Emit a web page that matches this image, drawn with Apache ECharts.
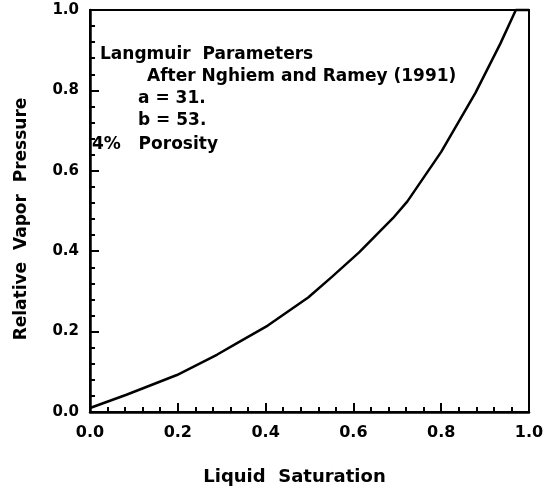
<!DOCTYPE html>
<html>
<head>
<meta charset="utf-8">
<script src="https://cdn.jsdelivr.net/npm/echarts@6/dist/echarts.min.js"></script>
<style>
html,body{margin:0;padding:0;background:#fff;}
#chart{width:554px;height:491px;}
</style>
</head>
<body>
<div id="chart"></div>
<script>
// Data
const liquidSaturation = [0, 0.083, 0.198, 0.29, 0.336, 0.405, 0.497, 0.551, 0.613, 0.69, 0.723, 0.8, 0.878, 0.935, 0.97, 1.0];
const relVaporPressure = [0.01, 0.043, 0.092, 0.143, 0.172, 0.215, 0.285, 0.336, 0.397, 0.482, 0.524, 0.647, 0.794, 0.917, 1.0, 1.0];
const xTicks = [0.0, 0.2, 0.4, 0.6, 0.8, 1.0];
const yTicks = [0.0, 0.2, 0.4, 0.6, 0.8, 1.0];
const annotationLines = [
  'Langmuir  Parameters',
  'After Nghiem and Ramey (1991)',
  'a = 31.',
  'b = 53.',
  '4%   Porosity'
];

const FONT = 'DejaVu Sans';
const chart = echarts.init(document.getElementById('chart'), null, {renderer: 'canvas'});
const seriesData = liquidSaturation.map((x, i) => [x, relVaporPressure[i]]);

const annPos = [[100, 56], [147, 78], [138, 100], [138, 122], [92, 146]];

chart.setOption({
  animation: false,
  backgroundColor: '#fff',
  grid: {left: 90, right: 25, top: 10, bottom: 79, show: true, borderColor: '#000', borderWidth: 2, backgroundColor: 'transparent'},
  xAxis: {
    type: 'value', min: 0, max: 1, interval: 0.2,
    name: 'Liquid  Saturation', nameLocation: 'middle', nameGap: 56,
    nameTextStyle: {fontFamily: FONT, fontWeight: 'bold', fontSize: 18, color: '#000', padding: [0, 30, 0, 0]},
    axisLine: {show: true, lineStyle: {color: '#000', width: 2.5}},
    axisTick: {show: true, inside: true, length: 9, lineStyle: {color: '#000', width: 2}},
    minorTick: {show: true, splitNumber: 5, length: 5, lineStyle: {color: '#000', width: 2}},
    splitLine: {show: false},
    axisLabel: {margin: 13, fontFamily: FONT, fontWeight: 'bold', fontSize: 16, color: '#000',
      formatter: v => xTicks.includes(+v.toFixed(1)) ? v.toFixed(1) : ''}
  },
  yAxis: {
    type: 'value', min: 0, max: 1, interval: 0.2,
    name: 'Relative  Vapor  Pressure', nameLocation: 'middle', nameGap: 60,
    nameTextStyle: {fontFamily: FONT, fontWeight: 'bold', fontSize: 17, color: '#000', padding: [0, 16, 0, 0]},
    axisLine: {show: true, lineStyle: {color: '#000', width: 2.5}},
    axisTick: {show: true, inside: true, length: 9, lineStyle: {color: '#000', width: 2}},
    minorTick: {show: true, splitNumber: 5, length: 5, lineStyle: {color: '#000', width: 2}},
    splitLine: {show: false},
    axisLabel: {margin: 11, fontFamily: FONT, fontWeight: 'bold', fontSize: 15, color: '#000',
      formatter: v => yTicks.includes(+v.toFixed(1)) ? v.toFixed(1) : ''}
  },
  series: [{
    type: 'line', data: seriesData, symbol: 'none', smooth: false,
    lineStyle: {color: '#000', width: 2.5, join: 'round'}, clip: false
  }],
  graphic: annotationLines.map((t, i) => ({
    type: 'text', left: annPos[i][0], top: annPos[i][1] - 10,
    style: {text: t, fill: '#000', font: 'bold 17px "DejaVu Sans"'}
  }))
});
</script>
</body>
</html>
